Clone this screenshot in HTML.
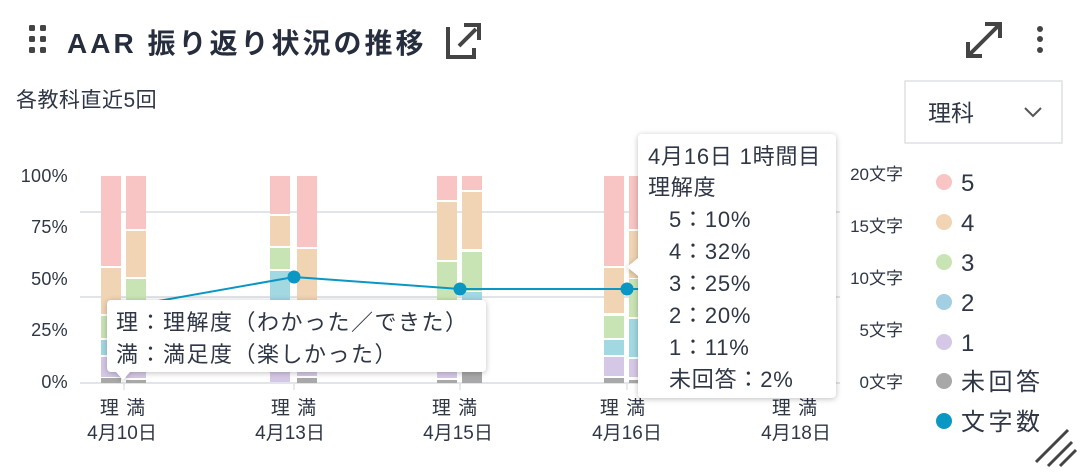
<!DOCTYPE html>
<html><head><meta charset="utf-8"><style>
body{margin:0;background:#fff;width:1080px;height:470px;overflow:hidden}
text{font-family:"Liberation Sans","Noto Sans CJK JP",sans-serif;fill:#2f3645}
</style></head><body>
<svg width="1080" height="470" viewBox="0 0 1080 470" xmlns="http://www.w3.org/2000/svg">
<g fill="#444">
<rect x="29" y="25" width="6" height="6" rx="1.5"/><rect x="40" y="25" width="6" height="6" rx="1.5"/>
<rect x="29" y="36" width="6" height="6" rx="1.5"/><rect x="40" y="36" width="6" height="6" rx="1.5"/>
<rect x="29" y="47" width="6" height="6" rx="1.5"/><rect x="40" y="47" width="6" height="6" rx="1.5"/>
</g>
<text x="67" y="53" font-size="28" font-weight="bold" letter-spacing="3" style="fill:#262d3d">AAR 振り返り状況の推移</text>
<g stroke="#444" stroke-width="4" fill="none">
<path d="M448 27 V57 H474 V48"/><path d="M459 46 L476 29"/><path d="M464 25 H479 V40"/>
</g>
<g stroke="#444" stroke-width="4" fill="none">
<path d="M970 54 L998 26"/><path d="M968 42 V56 H982"/><path d="M985 24 H1000 V38"/>
</g>
<g fill="#444"><circle cx="1040" cy="29" r="3"/><circle cx="1040" cy="39" r="3"/><circle cx="1040" cy="50" r="3"/></g>
<text x="16" y="107" font-size="21" letter-spacing="0.5">各教科直近5回</text>
<rect x="905" y="81" width="157" height="62" fill="#fff" stroke="#dde1e6" stroke-width="1.5"/>
<text x="928" y="121" font-size="23">理科</text>
<path d="M1025 108 L1033 116 L1041 108" stroke="#555" stroke-width="2" fill="none"/>
<g stroke="#e1e4e8" stroke-width="2"><line x1="80" y1="212" x2="840" y2="212"/><line x1="80" y1="297" x2="840" y2="297"/><line x1="80" y1="383" x2="840" y2="383"/></g>
<g font-size="18" text-anchor="end" letter-spacing="0.3">
<text x="68" y="182">100%</text><text x="68" y="233">75%</text><text x="68" y="285">50%</text><text x="68" y="336">25%</text><text x="68" y="388">0%</text>
</g>
<g font-size="17" text-anchor="end">
<text x="903" y="180">20文字</text><text x="903" y="232">15文字</text><text x="903" y="284">10文字</text><text x="903" y="336">5文字</text><text x="903" y="388">0文字</text>
</g>
<g>
<rect x="101" y="176" width="20" height="90" fill="#f8c4c4"/><rect x="101" y="268" width="20" height="46" fill="#f0d4b4"/><rect x="101" y="316" width="20" height="22" fill="#c9e4b4"/><rect x="101" y="340" width="20" height="15" fill="#a2d8e2"/><rect x="101" y="357" width="20" height="20" fill="#d5c8e6"/><rect x="101" y="378" width="20" height="5" fill="#a8a8a8"/>
<rect x="126" y="176" width="20" height="53" fill="#f8c4c4"/><rect x="126" y="231" width="20" height="46" fill="#f0d4b4"/><rect x="126" y="279" width="20" height="38" fill="#c9e4b4"/><rect x="126" y="319" width="20" height="38" fill="#a2d8e2"/><rect x="126" y="359" width="20" height="19" fill="#d5c8e6"/><rect x="126" y="380" width="20" height="3" fill="#a8a8a8"/>
<rect x="270" y="176" width="20" height="38" fill="#f8c4c4"/><rect x="270" y="216" width="20" height="30" fill="#f0d4b4"/><rect x="270" y="248" width="20" height="21" fill="#c9e4b4"/><rect x="270" y="271" width="20" height="60" fill="#a2d8e2"/><rect x="270" y="333" width="20" height="49" fill="#d5c8e6"/>
<rect x="297" y="176" width="20" height="71" fill="#f8c4c4"/><rect x="297" y="249" width="20" height="80" fill="#f0d4b4"/><rect x="297" y="331" width="20" height="20" fill="#c9e4b4"/><rect x="297" y="353" width="20" height="23" fill="#d5c8e6"/><rect x="297" y="378" width="20" height="5" fill="#a8a8a8"/>
<rect x="437" y="176" width="20" height="24" fill="#f8c4c4"/><rect x="437" y="202" width="20" height="58" fill="#f0d4b4"/><rect x="437" y="262" width="20" height="50" fill="#c9e4b4"/><rect x="437" y="314" width="20" height="30" fill="#a2d8e2"/><rect x="437" y="346" width="20" height="32" fill="#d5c8e6"/><rect x="437" y="380" width="20" height="3" fill="#a8a8a8"/>
<rect x="462" y="176" width="20" height="14" fill="#f8c4c4"/><rect x="462" y="192" width="20" height="57" fill="#f0d4b4"/><rect x="462" y="252" width="20" height="39" fill="#c9e4b4"/><rect x="462" y="292" width="20" height="50" fill="#a2d8e2"/><rect x="462" y="344" width="20" height="26" fill="#d5c8e6"/><rect x="462" y="372" width="20" height="11" fill="#a8a8a8"/>
<rect x="604" y="176" width="20" height="90" fill="#f8c4c4"/><rect x="604" y="268" width="20" height="45" fill="#f0d4b4"/><rect x="604" y="316" width="20" height="22" fill="#c9e4b4"/><rect x="604" y="340" width="20" height="15" fill="#a2d8e2"/><rect x="604" y="357" width="20" height="19" fill="#d5c8e6"/><rect x="604" y="378" width="20" height="5" fill="#a8a8a8"/>
<rect x="629" y="176" width="20" height="53" fill="#f8c4c4"/><rect x="629" y="231" width="20" height="47" fill="#f0d4b4"/><rect x="629" y="279" width="20" height="38" fill="#c9e4b4"/><rect x="629" y="319" width="20" height="38" fill="#a2d8e2"/><rect x="629" y="359" width="20" height="18" fill="#d5c8e6"/><rect x="629" y="380" width="20" height="3" fill="#a8a8a8"/>
</g>
<g stroke="#e1e4e8" stroke-width="1.5"><line x1="124" y1="383" x2="124" y2="390"/><line x1="294" y1="383" x2="294" y2="390"/><line x1="460" y1="383" x2="460" y2="390"/><line x1="627" y1="383" x2="627" y2="390"/><line x1="794" y1="383" x2="794" y2="390"/></g>
<g font-size="19" text-anchor="middle">
<text x="123" y="414" letter-spacing="1">理 満</text><text x="122" y="439">4月10日</text>
<text x="294" y="414" letter-spacing="1">理 満</text><text x="290" y="439">4月13日</text>
<text x="455" y="414" letter-spacing="1">理 満</text><text x="458" y="439">4月15日</text>
<text x="623" y="414" letter-spacing="1">理 満</text><text x="627" y="439">4月16日</text>
<text x="795" y="414" letter-spacing="1">理 満</text><text x="796" y="439">4月18日</text>
</g>
<polyline points="124,307 294,277 460,289 627,289 794,289" fill="none" stroke="#0a97c4" stroke-width="2"/>
<g fill="#0a97c4"><circle cx="294" cy="277" r="6.5"/><circle cx="460" cy="289" r="6.5"/><circle cx="627" cy="289" r="6.5"/></g>
<g style="filter:drop-shadow(0 1px 3px rgba(0,0,0,0.25))">
<path d="M111 300 H482 a4 4 0 0 1 4 4 V368 a4 4 0 0 1 -4 4 H130 L123 380 L116 372 H111 a4 4 0 0 1 -4 -4 V304 a4 4 0 0 1 4 -4Z" fill="#fff"/>
</g>
<text x="116" y="330" font-size="22" letter-spacing="1.5">理：理解度（わかった／できた）</text>
<text x="116" y="362" font-size="22" letter-spacing="1.5">満：満足度（楽しかった）</text>
<g style="filter:drop-shadow(0 1px 3px rgba(0,0,0,0.25))">
<path d="M642 134 H832 a4 4 0 0 1 4 4 V394 a4 4 0 0 1 -4 4 H642 a4 4 0 0 1 -4 -4 V276 L627 267 L638 258 V138 a4 4 0 0 1 4 -4Z" fill="#fff"/>
</g>
<g font-size="22" letter-spacing="0.8">
<text x="648" y="164">4月16日 1時間目</text>
<text x="648" y="195">理解度</text>
<text x="669" y="227">5：10%</text>
<text x="669" y="259">4：32%</text>
<text x="669" y="291">3：25%</text>
<text x="669" y="323">2：20%</text>
<text x="669" y="355">1：11%</text>
<text x="669" y="387">未回答：2%</text>
</g>
<g>
<circle cx="944" cy="182" r="8" fill="#f8c4c4"/><circle cx="944" cy="222" r="8" fill="#f0d4b4"/><circle cx="944" cy="262" r="8" fill="#c9e4b4"/><circle cx="944" cy="302" r="8" fill="#a2cfe2"/><circle cx="944" cy="342" r="8" fill="#d5c8e6"/><circle cx="944" cy="381" r="8" fill="#a8a8a8"/><circle cx="944" cy="421" r="8" fill="#0a97c4"/>
</g>
<g font-size="24" letter-spacing="3.5">
<text x="961" y="191">5</text><text x="961" y="231">4</text><text x="961" y="271">3</text><text x="961" y="311">2</text><text x="961" y="351">1</text><text x="961" y="390">未回答</text><text x="961" y="430">文字数</text>
</g>
<g stroke="#444" stroke-width="3"><line x1="1036" y1="462" x2="1068" y2="430"/><line x1="1048" y1="466" x2="1072" y2="442"/><line x1="1060" y1="466" x2="1076" y2="450"/></g>
</svg>
</body></html>
